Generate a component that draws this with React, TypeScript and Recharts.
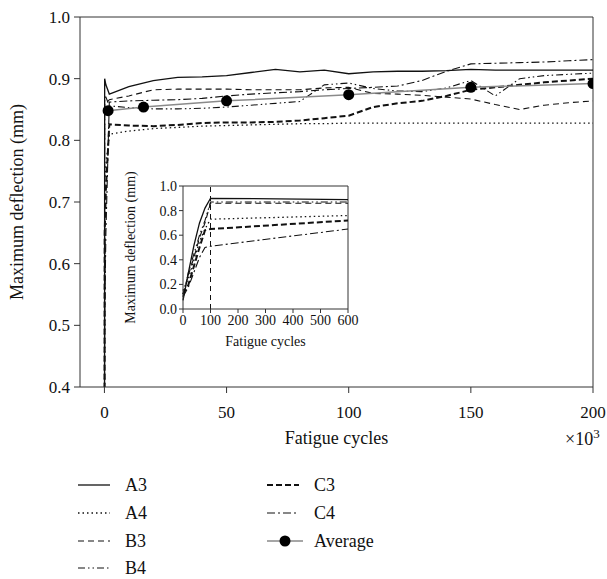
import React from "react";
import { LineChart, Line, XAxis, YAxis, ReferenceLine, Label } from "recharts";

const font = "'Liberation Serif', 'DejaVu Serif', serif";

// main chart: fatigue cycles in 10^3
const mainCycles = [0, 0.1, 0.6, 2, 10, 20, 30, 40, 50, 60, 70, 80, 90, 100, 110, 120, 130, 140, 150, 160, 170, 180, 190, 200];
const a3 = [0.07, 0.9, 0.89, 0.875, 0.887, 0.897, 0.902, 0.903, 0.905, 0.91, 0.915, 0.911, 0.914, 0.908, 0.911, 0.912, 0.912, 0.913, 0.915, 0.914, 0.914, 0.914, 0.914, 0.914];
const a4 = [0.15, 0.73, 0.76, 0.81, 0.815, 0.819, 0.821, 0.823, 0.824, 0.825, 0.826, 0.827, 0.827, 0.828, 0.828, 0.828, 0.828, 0.828, 0.828, 0.828, 0.828, 0.828, 0.828, 0.828];
const b3 = [0.12, 0.86, 0.86, 0.866, 0.872, 0.882, 0.883, 0.883, 0.883, 0.882, 0.882, 0.882, 0.885, 0.886, 0.876, 0.875, 0.873, 0.87, 0.867, 0.858, 0.85, 0.857, 0.861, 0.864];
const b4 = [0.1, 0.87, 0.87, 0.856, 0.853, 0.851, 0.851, 0.852, 0.854, 0.857, 0.86, 0.863, 0.89, 0.893, 0.884, 0.88, 0.879, 0.885, 0.897, 0.872, 0.9, 0.905, 0.907, 0.909];
const c3 = [0.12, 0.65, 0.72, 0.826, 0.824, 0.823, 0.825, 0.828, 0.829, 0.829, 0.83, 0.832, 0.836, 0.84, 0.854, 0.86, 0.864, 0.872, 0.882, 0.886, 0.89, 0.894, 0.897, 0.9];
const c4 = [0.1, 0.51, 0.65, 0.862, 0.864, 0.865, 0.866, 0.868, 0.872, 0.875, 0.877, 0.879, 0.882, 0.884, 0.886, 0.888, 0.897, 0.912, 0.924, 0.925, 0.926, 0.927, 0.929, 0.931];

const avgCycles = [1.5, 16, 50, 100, 150, 200];
const avgValues = [0.848, 0.854, 0.864, 0.874, 0.886, 0.892];

const mainXTicks = [0, 50, 100, 150, 200];
const mainYTicks = [0.4, 0.5, 0.6, 0.7, 0.8, 0.9, 1.0];

// inset: fatigue cycles (first 600)
const insetCycles = [0, 20, 40, 60, 80, 100, 600];
const insetA3 = [0.07, 0.3, 0.52, 0.7, 0.82, 0.9, 0.89];
const insetA4 = [0.15, 0.25, 0.4, 0.55, 0.65, 0.73, 0.76];
const insetB3 = [0.12, 0.28, 0.42, 0.58, 0.7, 0.86, 0.86];
const insetB4 = [0.1, 0.3, 0.45, 0.6, 0.72, 0.87, 0.87];
const insetC3 = [0.12, 0.2, 0.35, 0.5, 0.64, 0.65, 0.72];
const insetC4 = [0.1, 0.18, 0.3, 0.42, 0.5, 0.51, 0.65];
const insetXTicks = [0, 100, 200, 300, 400, 500, 600];
const insetYTicks = [0, 0.2, 0.4, 0.6, 0.8, 1.0];

const styles: Record<string, { dash?: string; width: number; color: string }> = {
  A3: { width: 1.3, color: "#111" },
  A4: { dash: "1.5 3", width: 1.3, color: "#111" },
  B3: { dash: "6 4", width: 1.1, color: "#111" },
  B4: { dash: "7 3 1.5 3 1.5 3", width: 1.1, color: "#111" },
  C3: { dash: "6 3", width: 2, color: "#111" },
  C4: { dash: "8 3 2 3", width: 1.1, color: "#111" },
};

const mainData = mainCycles.map((x, i) => ({
  x,
  A3: a3[i],
  A4: a4[i],
  B3: b3[i],
  B4: b4[i],
  C3: c3[i],
  C4: c4[i],
}));
const avgData = avgCycles.map((x, i) => ({ x, avg: avgValues[i] }));
const insetData = insetCycles.map((x, i) => ({
  x,
  A3: insetA3[i],
  A4: insetA4[i],
  B3: insetB3[i],
  B4: insetB4[i],
  C3: insetC3[i],
  C4: insetC4[i],
}));

const seriesKeys = ["A3", "A4", "B3", "B4", "C3", "C4"];
const axisColor = "#333";

function LegendItem({ name, x, y }: { name: string; x: number; y: number }) {
  const s = styles[name];
  return (
    <div style={{ position: "absolute", left: x, top: y - 12, height: 24, display: "flex", alignItems: "center" }}>
      <svg width={36} height={14}>
        {name === "Average" ? (
          <>
            <line x1={0} y1={7} x2={36} y2={7} stroke="#888" strokeWidth={1.5} />
            <circle cx={18} cy={7} r={5.5} fill="#000" />
          </>
        ) : (
          <line x1={0} y1={7} x2={32} y2={7} stroke={s.color} strokeWidth={s.width} strokeDasharray={s.dash} />
        )}
      </svg>
      <span style={{ marginLeft: 11, fontFamily: font, fontSize: 18, color: "#111" }}>{name}</span>
    </div>
  );
}

export default function App() {
  return (
    <div style={{ position: "absolute", left: 0, top: 0, width: 607, height: 579, background: "#fff" }}>
      <LineChart width={607} height={460} data={mainData} margin={{ top: 17, right: 14, bottom: 0, left: 0 }}>
        <XAxis
          dataKey="x"
          type="number"
          domain={[-10, 200]}
          ticks={mainXTicks}
          allowDataOverflow
          height={73}
          stroke={axisColor}
          tickSize={6}
          tickMargin={13}
          tick={{ fill: "#111", fontSize: 17, fontFamily: font }}
        >
          <Label value="Fatigue cycles" position="insideBottom" offset={16} style={{ fontSize: 18, fontFamily: font, fill: "#111" }} />
        </XAxis>
        <YAxis
          type="number"
          domain={[0.4, 1.0]}
          ticks={mainYTicks}
          allowDataOverflow
          width={80}
          stroke={axisColor}
          tickSize={6}
          tickMargin={4}
          tickFormatter={(v: number) => v.toFixed(1)}
          tick={{ fill: "#111", fontSize: 17, fontFamily: font }}
        >
          <Label
            value="Maximum deflection (mm)"
            angle={-90}
            position="insideLeft"
            offset={17}
            style={{ textAnchor: "middle", fontSize: 18, fontFamily: font, fill: "#111" }}
          />
        </YAxis>
        <ReferenceLine y={1.0} stroke={axisColor} />
        <ReferenceLine x={200} stroke={axisColor} />
        {seriesKeys.map((k) => (
          <Line
            key={k}
            dataKey={k}
            type="linear"
            stroke={styles[k].color}
            strokeWidth={styles[k].width}
            strokeDasharray={styles[k].dash}
            dot={false}
            isAnimationActive={false}
          />
        ))}
        <Line
          data={avgData}
          dataKey="avg"
          type="linear"
          stroke="#8a8a8a"
          strokeWidth={1.5}
          dot={{ r: 5.5, fill: "#000", stroke: "#000", strokeWidth: 0 }}
          isAnimationActive={false}
        />
      </LineChart>

      <div style={{ position: "absolute", left: 565, top: 426, fontFamily: font, fontSize: 18, color: "#111" }}>
        ×10<sup style={{ fontSize: 13 }}>3</sup>
      </div>

      <div style={{ position: "absolute", left: 100, top: 170 }}>
        <LineChart width={260} height={180} data={insetData} margin={{ top: 16, right: 12, bottom: 0, left: 0 }}>
          <XAxis
            dataKey="x"
            type="number"
            domain={[0, 600]}
            ticks={insetXTicks}
            height={41}
            stroke={axisColor}
            tickSize={4}
            tick={{ fill: "#111", fontSize: 14, fontFamily: font }}
          >
            <Label value="Fatigue cycles" position="insideBottom" offset={4} style={{ fontSize: 14, fontFamily: font, fill: "#111" }} />
          </XAxis>
          <YAxis
            type="number"
            domain={[0, 1]}
            ticks={insetYTicks}
            width={83}
            stroke={axisColor}
            tickSize={4}
            tickFormatter={(v: number) => v.toFixed(1)}
            tick={{ fill: "#111", fontSize: 14, fontFamily: font }}
          >
            <Label
              value="Maximum deflection (mm)"
              angle={-90}
              position="insideLeft"
              offset={30}
              style={{ textAnchor: "middle", fontSize: 14, fontFamily: font, fill: "#111" }}
            />
          </YAxis>
          <ReferenceLine y={1} stroke={axisColor} />
          <ReferenceLine x={600} stroke={axisColor} />
          <ReferenceLine x={100} stroke="#111" strokeDasharray="5 4" />
          {seriesKeys.map((k) => (
            <Line
              key={k}
              dataKey={k}
              type="linear"
              stroke={styles[k].color}
              strokeWidth={styles[k].width}
              strokeDasharray={styles[k].dash}
              dot={false}
              isAnimationActive={false}
            />
          ))}
        </LineChart>
      </div>

      <LegendItem name="A3" x={78} y={485} />
      <LegendItem name="A4" x={78} y={513} />
      <LegendItem name="B3" x={78} y={541} />
      <LegendItem name="B4" x={78} y={568} />
      <LegendItem name="C3" x={267} y={485} />
      <LegendItem name="C4" x={267} y={513} />
      <LegendItem name="Average" x={267} y={541} />
    </div>
  );
}
